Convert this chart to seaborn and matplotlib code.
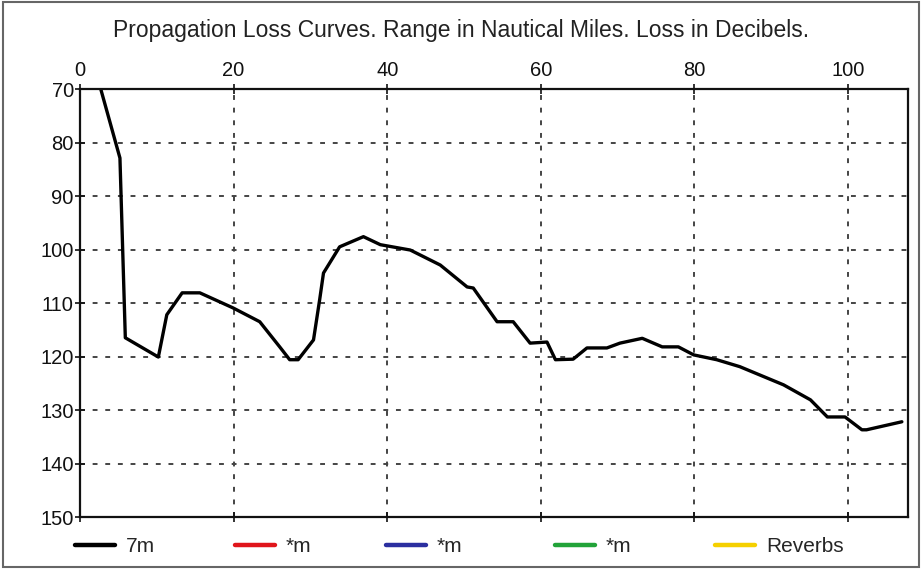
import matplotlib
matplotlib.use("Agg")
import matplotlib.pyplot as plt
import seaborn as sns
import pandas as pd
from matplotlib.lines import Line2D
from matplotlib.patches import Rectangle

# ---- data ----
range_nm = [2.7, 5.2, 5.9, 10.2, 11.3, 13.3, 15.6, 19.9, 23.4, 26.0, 27.3, 28.4,
            30.4, 31.2, 31.7, 33.8, 36.9, 39.1, 43.0, 46.9, 50.4, 51.2, 54.3, 56.4,
            58.6, 60.8, 61.9, 64.2, 66.0, 68.6, 70.3, 73.2, 75.8, 77.9, 79.9, 82.9,
            85.9, 91.6, 95.1, 97.3, 99.6, 101.8, 102.4, 107.0]
loss_7m = [70.0, 82.9, 116.5, 120.1, 112.2, 108.1, 108.1, 110.9, 113.5, 118.2, 120.6, 120.6,
           116.9, 109.4, 104.4, 99.5, 97.6, 99.1, 100.1, 102.9, 107.0, 107.2, 113.5, 113.5,
           117.5, 117.3, 120.6, 120.5, 118.4, 118.4, 117.5, 116.6, 118.2, 118.2, 119.7, 120.6,
           121.9, 125.3, 128.1, 131.3, 131.3, 133.7, 133.7, 132.2]
legend_labels = ["7m", "*m", "*m", "*m", "Reverbs"]
legend_colors = ["#000000", "#e0151b", "#2b2fa0", "#22a339", "#f5d000"]
x_ticks = [0, 20, 40, 60, 80, 100]
y_ticks = [70, 80, 90, 100, 110, 120, 130, 140, 150]
title = "Propagation Loss Curves. Range in Nautical Miles. Loss in Decibels."

sns.set_style("white")
plt.rcParams["font.family"] = ["Liberation Sans", "DejaVu Sans"]

fig = plt.figure(figsize=(9.22, 5.69), dpi=100)
ax = fig.add_axes([80/922, 1-517/569, (908-80)/922, (517-89)/569])

df = pd.DataFrame({"range": range_nm, "loss": loss_7m})
sns.lineplot(data=df, x="range", y="loss", ax=ax, color="black", lw=2.4,
             sort=False, estimator=None)

ax.set_xlim(0, 107.8)
ax.set_ylim(150, 70)
ax.set_xticks(x_ticks)
ax.set_yticks(y_ticks)
ax.set_xlabel("")
ax.set_ylabel("")
ax.xaxis.tick_top()
ax.tick_params(axis="x", which="both", top=True, bottom=True, direction="inout",
               length=7, width=1.2, labelsize=14.5, pad=3, colors="#111111")
ax.tick_params(axis="y", which="both", left=True, direction="inout",
               length=7, width=1.2, labelsize=14.5, pad=1, colors="#111111")
ax.grid(True, color="#444444", linestyle=(0, (2.5, 4)), linewidth=1.4)
for s in ax.spines.values():
    s.set_visible(True)
    s.set_color("#111111")
    s.set_linewidth(1.6)

fig.text(0.5, 1-30/569, title, ha="center", va="center", fontsize=16.5, color="#222222")

# legend entries at their own positions
entry_x = [75, 235, 386, 555, 715]
for lab, col, px in zip(legend_labels, legend_colors, entry_x):
    fig.legend([Line2D([], [], color=col, lw=3.2)], [lab], loc="center left",
               bbox_to_anchor=(px/922, 1-547/569), frameon=False, fontsize=15,
               handlelength=1.9, handletextpad=0.55, borderpad=0, borderaxespad=0)

fig.add_artist(Rectangle((0.003, 0.003), 0.994, 0.994, transform=fig.transFigure,
                         fill=False, edgecolor="#666666", lw=1.5))

fig.savefig("out.png", dpi=100)
